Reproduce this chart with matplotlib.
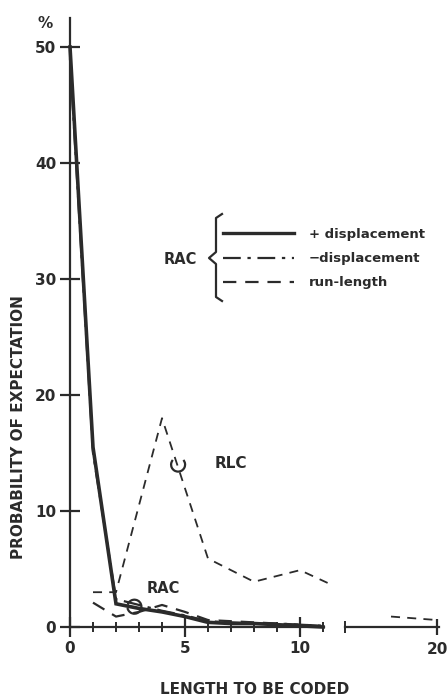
import numpy as np
import matplotlib
matplotlib.use("Agg")
import matplotlib.pyplot as plt
from matplotlib.patches import Arc
from matplotlib.lines import Line2D

# RAC, + displacement (thick solid)
plus_x = [0, 1, 2, 3, 4, 5, 6, 7, 8, 9, 10, 11]
plus_y = [50, 15.5, 2.0, 1.6, 1.3, 0.9, 0.4, 0.3, 0.3, 0.2, 0.1, 0.0]
# RAC, - displacement (dash-dot)
minus_x = [0, 1, 2, 3, 4, 5, 6, 7, 8, 9, 10, 11]
minus_y = [49, 15, 2.4, 1.9, 1.4, 1.0, 0.5, 0.4, 0.3, 0.3, 0.2, 0.1]
# RAC, run-length (dashed)
rl_x = [1, 2, 3, 4, 5, 6, 7, 8, 9, 10, 11]
rl_y = [2.1, 0.9, 1.3, 1.9, 1.3, 0.6, 0.5, 0.4, 0.3, 0.2, 0.1]
# RLC (thin dashed)
rlc_x = [1, 2, 4, 6, 8, 10, 11.2]
rlc_y = [3.0, 3.0, 18, 5.9, 3.9, 4.9, 3.8]
rlc_tail_x = [18, 20]
rlc_tail_y = [0.9, 0.6]

yticks = [0, 10, 20, 30, 40, 50]
legend_labels = ["+ displacement", "\u2212displacement", "run-length"]

W, H = 448, 697
fig = plt.figure(figsize=(W / 100, H / 100), dpi=100)
ink = "#2b2b2b"
font = dict(family="DejaVu Sans", weight="bold", color=ink)

x0, y0 = 70, 627          # pixel of data origin
ux, uy = 23.0, 11.6       # pixels per unit

def fx(px):
    return px / W

def fy(py):
    return 1 - py / H

# main axes 0..11
xmax1 = 11.05
ax = fig.add_axes([fx(x0), fy(y0), xmax1 * ux / W, 52.5 * uy / H])
ax.set_xlim(0, xmax1)
ax.set_ylim(0, 52.5)
# second segment 16..20 after break
ax2 = fig.add_axes([fx(345), fy(y0), 4.1 * ux / W, 52.5 * uy / H])
ax2.set_xlim(16, 20.1)
ax2.set_ylim(0, 52.5)

for a in (ax, ax2):
    for s in ("top", "right"):
        a.spines[s].set_visible(False)
    a.spines["bottom"].set_linewidth(1.6)
    a.spines["bottom"].set_color(ink)
    a.patch.set_alpha(0)
ax.spines["left"].set_linewidth(1.6)
ax.spines["left"].set_color(ink)
ax2.spines["left"].set_visible(False)
ax2.set_yticks([])

ax.set_yticks(yticks)
ax.set_yticklabels([str(v) for v in yticks], **font, fontsize=11)
ax.tick_params(axis="y", direction="inout", length=14, width=1.6, color=ink, pad=3)
ax.set_xticks([0, 5, 10])
ax.set_xticklabels(["0", "5", "10"], **font, fontsize=11)
ax.set_xticks(list(range(1, 12)), minor=True)
ax.tick_params(axis="x", which="major", direction="inout", length=14, width=1.6, color=ink, pad=3)
ax.tick_params(axis="x", which="minor", direction="inout", length=7, width=1.4, color=ink)
ax.tick_params(axis="y", which="minor", left=False)
ax2.set_xticks([20])
ax2.set_xticklabels(["20"], **font, fontsize=11)
ax2.set_xticks([16], minor=True)
ax2.tick_params(axis="x", which="major", direction="inout", length=12, width=1.6, color=ink, pad=5)
ax2.tick_params(axis="x", which="minor", direction="inout", length=9, width=1.4, color=ink)

# curves
ax.plot(plus_x, plus_y, color=ink, lw=2.6, solid_joinstyle="miter", clip_on=False)
ax.plot(minus_x, minus_y, color=ink, lw=1.6, linestyle=(0, (8, 3, 1.5, 3)), clip_on=False)
ax.plot(rl_x, rl_y, color=ink, lw=1.6, linestyle=(0, (6, 4)), clip_on=False)
ax.plot(rlc_x, rlc_y, color=ink, lw=1.3, linestyle=(0, (5, 4)), clip_on=False)
ax2.plot(rlc_tail_x, rlc_tail_y, color=ink, lw=1.3, linestyle=(0, (5, 4)), clip_on=False)

# group arcs and labels
r = 7.0
ax.add_patch(Arc((4.7, 14.0), 2 * r / ux, 2 * r / uy, theta1=120, theta2=420,
                 color=ink, lw=1.6))
ax.add_patch(Arc((2.8, 1.75), 2 * r / ux, 2 * r / uy, theta1=-160, theta2=150,
                 color=ink, lw=1.6, clip_on=False))
ax.text(6.3, 14.1, "RLC", fontsize=11, va="center", ha="left", **font)
ax.text(4.05, 3.3, "RAC", fontsize=10.5, va="center", ha="center", **font)

# legend with brace
handles = [Line2D([], [], color=ink, lw=2.4),
           Line2D([], [], color=ink, lw=1.6, linestyle=(0, (8, 3, 1.5, 3))),
           Line2D([], [], color=ink, lw=1.6, linestyle=(0, (6, 4)))]
leg = fig.legend(handles, legend_labels, loc="upper left",
                 bbox_to_anchor=(fx(223), fy(228)), frameon=False,
                 handlelength=5.4, handletextpad=1.1, labelspacing=0.85,
                 borderaxespad=0, borderpad=0,
                 prop=dict(family="DejaVu Sans", weight="bold", size=9.5))
for t in leg.get_texts():
    t.set_color(ink)

# brace drawn in pixel space
bx, btop, bbot, bmid = 216, 218, 297, 258
brace_x = [bx + 6, bx, bx, bx - 7, bx, bx, bx + 6]
brace_y = [btop - 4, btop, bmid - 6, bmid, bmid + 6, bbot, bbot + 4]
fig.add_artist(Line2D([fx(v) for v in brace_x], [fy(v) for v in brace_y],
                      transform=fig.transFigure, color=ink, lw=1.6))
fig.text(fx(197), fy(259), "RAC", ha="right", va="center", fontsize=10.5, **font)

# axis labels
fig.text(fx(45), fy(23), "%", ha="center", va="center", fontsize=11, **font)
fig.text(fx(19), fy(427), "PROBABILITY OF EXPECTATION", rotation=90,
         ha="center", va="center", fontsize=11, **font)
fig.text(fx(255), fy(690), "LENGTH TO BE CODED", ha="center", va="center",
         fontsize=11, **font)

fig.savefig("out.png", dpi=100)
